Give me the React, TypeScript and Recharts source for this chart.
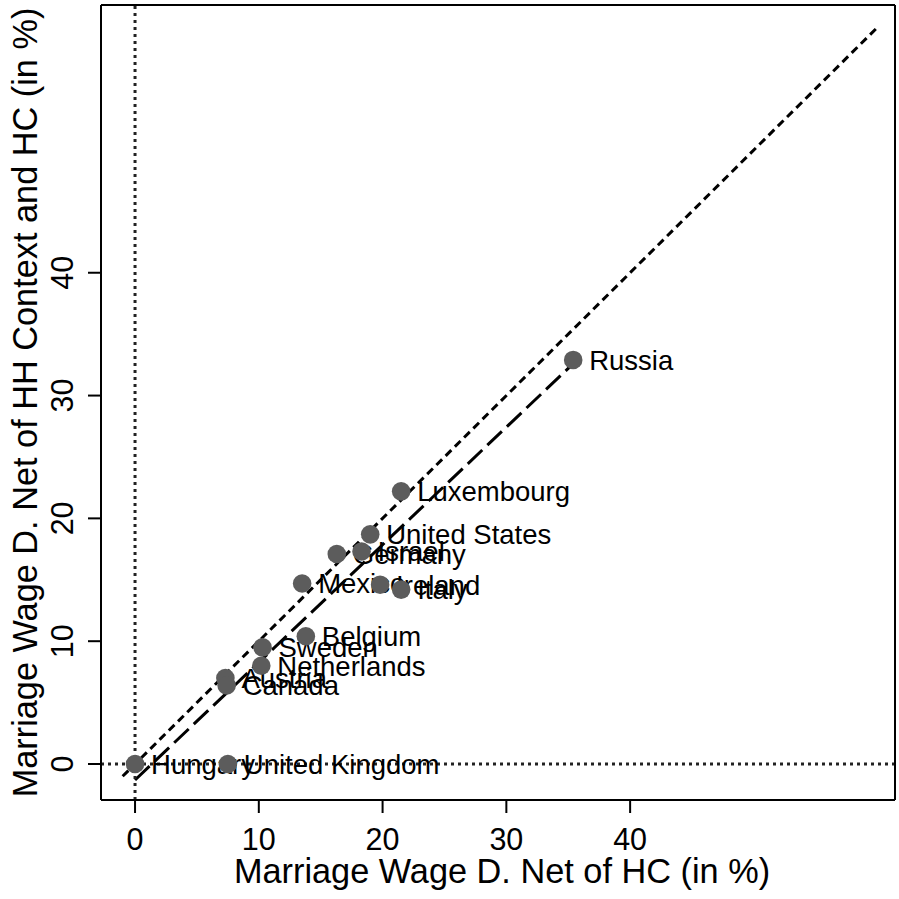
import React from 'react';
import {
  ComposedChart,
  XAxis,
  YAxis,
  Scatter,
  Line,
  ReferenceLine,
  Label,
} from 'recharts';

const FONT = "'Liberation Sans', Arial, Helvetica, sans-serif";

// country labels and their two wage differentials (in %)
const countries = [
  'Hungary',
  'United Kingdom',
  'Austria',
  'Canada',
  'Netherlands',
  'Sweden',
  'Belgium',
  'Mexico',
  'Ireland',
  'Italy',
  'Germany',
  'Israel',
  'United States',
  'Luxembourg',
  'Russia',
];
const netOfHC = [0, 7.5, 7.3, 7.4, 10.2, 10.3, 13.8, 13.5, 19.8, 21.5, 16.3, 18.3, 19.0, 21.5, 35.4];
const netOfHHandHC = [0, 0, 7.0, 6.4, 8.0, 9.5, 10.4, 14.7, 14.6, 14.2, 17.1, 17.3, 18.7, 22.2, 32.9];

// fitted line (long dashes) and 45 degree line (short dashes)
const fitX = [0, 35.4];
const fitY = [-1.3, 32.6];
const diagX = [-1, 60];
const diagY = [-1, 60];

const ticks = [0, 10, 20, 30, 40];
const xDomain: [number, number] = [-2.75, 61.4];
const yDomain: [number, number] = [-2.93, 61.8];

const points = countries.map((name, i) => ({ name, x: netOfHC[i], y: netOfHHandHC[i] }));
const fitData = fitX.map((x, i) => ({ x, y: fitY[i] }));
const diagData = diagX.map((x, i) => ({ x, y: diagY[i] }));

const XTick = (props: any) => {
  const { x, y, payload } = props;
  return (
    <text x={x} y={y + 37} textAnchor="middle" fontSize={30.5} fontFamily={FONT} fill="#000">
      {payload.value}
    </text>
  );
};

const YTick = (props: any) => {
  const { x, y, payload } = props;
  const bx = x - 15;
  return (
    <text
      x={bx}
      y={y}
      transform={`rotate(-90, ${bx}, ${y})`}
      textAnchor="middle"
      fontSize={30.5}
      fontFamily={FONT}
      fill="#000"
    >
      {payload.value}
    </text>
  );
};

const XTitle = (props: any) => {
  const vb = props.viewBox;
  return (
    <text x={vb.x + vb.width / 2 + 4} y={vb.y + 83} textAnchor="middle" fontSize={34.3} fontFamily={FONT} fill="#000">
      Marriage Wage D. Net of HC (in %)
    </text>
  );
};

const YTitle = (props: any) => {
  const vb = props.viewBox;
  const cx = 37;
  const cy = vb.y + vb.height / 2;
  return (
    <text
      x={cx}
      y={cy}
      transform={`rotate(-90, ${cx}, ${cy})`}
      textAnchor="middle"
      fontSize={34.3}
      fontFamily={FONT}
      fill="#000"
    >
      Marriage Wage D. Net of HH Context and HC (in %)
    </text>
  );
};

const NameLabel = (props: any) => {
  const { cx, cy, payload } = props;
  return (
    <text x={cx + 16} y={cy + 9.8} fontSize={27.5} fontFamily={FONT} fill="#000">
      {payload.name}
    </text>
  );
};

const Dot = (props: any) => <circle cx={props.cx} cy={props.cy} r={9.3} fill="#5c5c5c" />;

export default function App() {
  return (
    <div style={{ position: 'absolute', left: 0, top: 0, width: 899, height: 899, background: '#fff' }}>
      <ComposedChart width={899} height={899} margin={{ top: 4, right: 3, bottom: 0, left: 0 }}>
        <XAxis
          dataKey="x"
          type="number"
          domain={xDomain}
          ticks={ticks}
          allowDataOverflow
          height={99}
          tickSize={13}
          tickMargin={0}
          tick={<XTick />}
          axisLine={{ stroke: '#000', strokeWidth: 2 }}
          tickLine={{ stroke: '#000', strokeWidth: 2 }}
        >
          <Label content={<XTitle />} />
        </XAxis>
        <XAxis
          xAxisId="top"
          dataKey="x"
          orientation="top"
          type="number"
          domain={xDomain}
          allowDataOverflow
          height={1}
          tick={false}
          tickLine={false}
          axisLine={{ stroke: '#000', strokeWidth: 2 }}
        />
        <YAxis
          dataKey="y"
          type="number"
          domain={yDomain}
          ticks={ticks}
          allowDataOverflow
          width={101}
          tickSize={13}
          tickMargin={0}
          tick={<YTick />}
          axisLine={{ stroke: '#000', strokeWidth: 2 }}
          tickLine={{ stroke: '#000', strokeWidth: 2 }}
        >
          <Label content={<YTitle />} />
        </YAxis>
        <YAxis
          yAxisId="right"
          dataKey="y"
          orientation="right"
          type="number"
          domain={yDomain}
          allowDataOverflow
          width={1}
          tick={false}
          tickLine={false}
          axisLine={{ stroke: '#000', strokeWidth: 2 }}
        />
        <Scatter
          data={points}
          xAxisId="top"
          yAxisId="right"
          shape={<NameLabel />}
          isAnimationActive={false}
        />
        <Scatter data={points} shape={<Dot />} isAnimationActive={false} />
        <Line
          data={fitData}
          dataKey="y"
          type="linear"
          stroke="#000"
          strokeWidth={3}
          strokeDasharray="20 7"
          dot={false}
          activeDot={false}
          isAnimationActive={false}
        />
        <Line
          data={diagData}
          dataKey="y"
          type="linear"
          stroke="#000"
          strokeWidth={3}
          strokeDasharray="8 5"
          dot={false}
          activeDot={false}
          isAnimationActive={false}
        />
        <ReferenceLine x={0} stroke="#222" strokeWidth={3} strokeDasharray="3 4" />
        <ReferenceLine y={0} stroke="#222" strokeWidth={3} strokeDasharray="3 4" />
      </ComposedChart>
    </div>
  );
}
